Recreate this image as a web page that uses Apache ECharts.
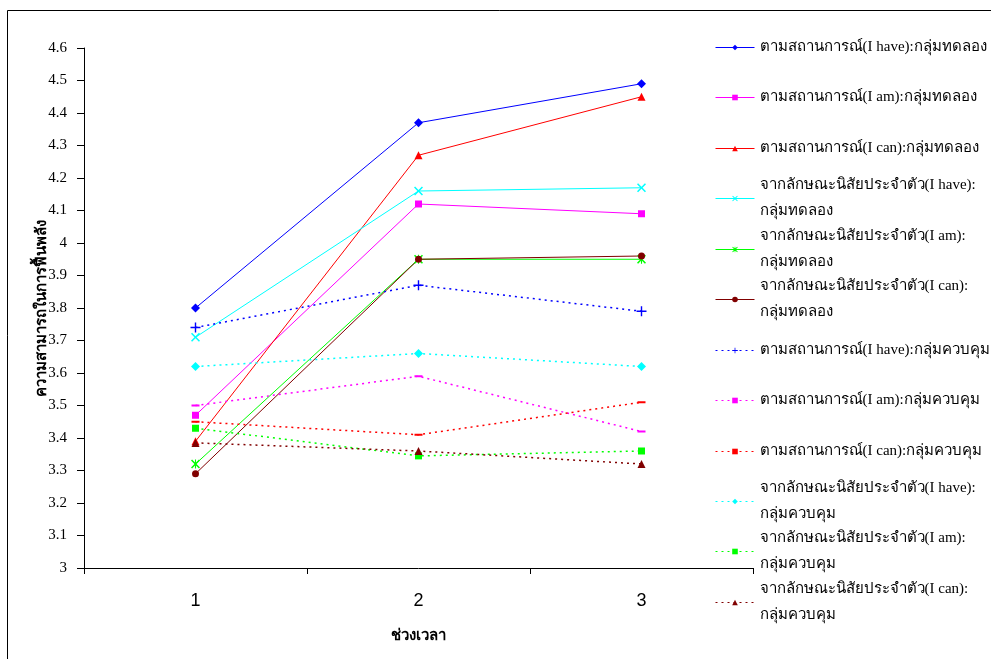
<!DOCTYPE html>
<html>
<head>
<meta charset="utf-8">
<script src="https://cdn.jsdelivr.net/npm/echarts@6/dist/echarts.min.js"></script>
<style>
html,body{margin:0;padding:0;background:#fff;}
#chart{width:991px;height:659px;}
</style>
</head>
<body>
<div id="chart"></div>
<script>
const categories = ['1', '2', '3'];
const yTicks = [3, 3.1, 3.2, 3.3, 3.4, 3.5, 3.6, 3.7, 3.8, 3.9, 4, 4.1, 4.2, 4.3, 4.4, 4.5, 4.6];

const seriesNames = [
  'ตามสถานการณ์(I have):กลุ่มทดลอง',
  'ตามสถานการณ์(I am):กลุ่มทดลอง',
  'ตามสถานการณ์(I can):กลุ่มทดลอง',
  'จากลักษณะนิสัยประจำตัว(I have):\nกลุ่มทดลอง',
  'จากลักษณะนิสัยประจำตัว(I am):\nกลุ่มทดลอง',
  'จากลักษณะนิสัยประจำตัว(I can):\nกลุ่มทดลอง',
  'ตามสถานการณ์(I have):กลุ่มควบคุม',
  'ตามสถานการณ์(I am):กลุ่มควบคุม',
  'ตามสถานการณ์(I can):กลุ่มควบคุม',
  'จากลักษณะนิสัยประจำตัว(I have):\nกลุ่มควบคุม',
  'จากลักษณะนิสัยประจำตัว(I am):\nกลุ่มควบคุม',
  'จากลักษณะนิสัยประจำตัว(I can):\nกลุ่มควบคุม'
];

const expHaveSituation = [3.80, 4.37, 4.49];
const expAmSituation   = [3.47, 4.12, 4.09];
const expCanSituation  = [3.39, 4.27, 4.45];
const expHaveTrait     = [3.71, 4.16, 4.17];
const expAmTrait       = [3.32, 3.95, 3.95];
const expCanTrait      = [3.29, 3.95, 3.96];
const ctlHaveSituation = [3.74, 3.87, 3.79];
const ctlAmSituation   = [3.50, 3.59, 3.42];
const ctlCanSituation  = [3.45, 3.41, 3.51];
const ctlHaveTrait     = [3.62, 3.66, 3.62];
const ctlAmTrait       = [3.43, 3.345, 3.36];
const ctlCanTrait      = [3.385, 3.36, 3.32];

const seriesValues = [
  expHaveSituation, expAmSituation, expCanSituation,
  expHaveTrait, expAmTrait, expCanTrait,
  ctlHaveSituation, ctlAmSituation, ctlCanSituation,
  ctlHaveTrait, ctlAmTrait, ctlCanTrait
];

const X_PATH = 'path://M0,1.2 L1.2,0 L5,3.8 L8.8,0 L10,1.2 L6.2,5 L10,8.8 L8.8,10 L5,6.2 L1.2,10 L0,8.8 L3.8,5 Z';
const PLUS_PATH = 'path://M4.3,0 H5.7 V4.3 H10 V5.7 H5.7 V10 H4.3 V5.7 H0 V4.3 H4.3 Z';
const STAR_PATH = 'path://M0,1.2 L1.2,0 L5,3.8 L8.8,0 L10,1.2 L6.2,5 L10,8.8 L8.8,10 L5,6.2 L1.2,10 L0,8.8 L3.8,5 Z M4.4,0 H5.6 V10 H4.4 Z';

const DOT = [2, 4];
const styles = [
  {c:'#0000FF', sym:'diamond', size:9, dash:'solid', w:1},
  {c:'#FF00FF', sym:'rect', size:7, dash:'solid', w:1},
  {c:'#FF0000', sym:'triangle', size:8, dash:'solid', w:1},
  {c:'#00FFFF', sym:X_PATH, size:9, dash:'solid', w:1},
  {c:'#00FF00', sym:STAR_PATH, size:9, dash:'solid', w:1},
  {c:'#800000', sym:'circle', size:7, dash:'solid', w:1},
  {c:'#0000FF', sym:PLUS_PATH, size:10, dash:DOT, w:1.5},
  {c:'#FF00FF', sym:'rect', size:[8,2], dash:DOT, w:1.5},
  {c:'#FF0000', sym:'rect', size:[8,2], dash:DOT, w:1.5},
  {c:'#00FFFF', sym:'diamond', size:9, dash:DOT, w:1.5},
  {c:'#00FF00', sym:'rect', size:7, dash:DOT, w:1.5},
  {c:'#800000', sym:'triangle', size:8, dash:DOT, w:1.5}
];

const legendCenters = [47.5, 97.5, 148.5, 198.5, 249.5, 299.5, 350.5, 400.5, 451.5, 501.5, 551.5, 602.5];
const LH = 26;

const series = seriesNames.map((name, i) => ({
  name: name,
  type: 'line',
  data: seriesValues[i],
  symbol: styles[i].sym,
  symbolSize: styles[i].size,
  showAllSymbol: true,
  animation: false,
  itemStyle: {color: styles[i].c},
  lineStyle: {color: styles[i].c, width: styles[i].w, type: styles[i].dash}
}));

const legends = seriesNames.map((name, i) => {
  const twoLine = name.indexOf('\n') >= 0;
  return {
    data: [name],
    orient: 'vertical',
    left: 715,
    top: twoLine ? legendCenters[i] - 1.5 * LH : legendCenters[i] - LH / 2,
    padding: 0,
    itemWidth: 39,
    itemHeight: 7,
    selectedMode: false,
    lineStyle: {width: 1},
    textStyle: {
      fontFamily: '"Liberation Serif", serif',
      fontSize: 15,
      color: '#000',
      lineHeight: LH,
      padding: twoLine ? [LH, 0, 0, 0] : 0
    }
  };
});

const chart = echarts.init(document.getElementById('chart'));
chart.setOption({
  backgroundColor: '#fff',
  animation: false,
  grid: {left: 84, top: 48, width: 669, height: 520, containLabel: false},
  legend: legends,
  xAxis: {
    type: 'category',
    data: categories,
    boundaryGap: true,
    name: 'ช่วงเวลา',
    nameLocation: 'middle',
    nameGap: 61,
    nameMoveOverlap: false,
    nameTextStyle: {fontFamily: '"Liberation Serif", serif', fontSize: 15, fontWeight: 'bold', color: '#000'},
    axisLine: {lineStyle: {color: '#000', width: 1}},
    axisTick: {show: true, interval: 0, alignWithLabel: false, length: 6, lineStyle: {color: '#000'}},
    axisLabel: {fontFamily: '"Liberation Sans", Arial, sans-serif', fontSize: 18, color: '#000', margin: 24},
    splitLine: {show: false}
  },
  yAxis: {
    type: 'value',
    min: yTicks[0],
    max: yTicks[yTicks.length - 1],
    interval: 0.1,
    name: 'ความสามารถในการฟื้นพลัง',
    nameLocation: 'middle',
    nameGap: 34,
    nameMoveOverlap: false,
    nameRotate: 90,
    nameTextStyle: {fontFamily: '"Liberation Serif", serif', fontSize: 15, fontWeight: 'bold', color: '#000'},
    axisLine: {show: true, lineStyle: {color: '#000', width: 1}},
    axisTick: {show: true, length: 7, lineStyle: {color: '#000'}},
    axisLabel: {
      fontFamily: '"Liberation Serif", serif', fontSize: 15, color: '#000', margin: 17,
      formatter: v => String(+v.toFixed(1))
    },
    splitLine: {show: false}
  },
  graphic: [{
    type: 'rect',
    shape: {x: 7.5, y: 10.5, width: 1200, height: 800},
    style: {fill: null, stroke: '#000', lineWidth: 1},
    silent: true,
    z: -1
  }],
  series: series
});
</script>
</body>
</html>
